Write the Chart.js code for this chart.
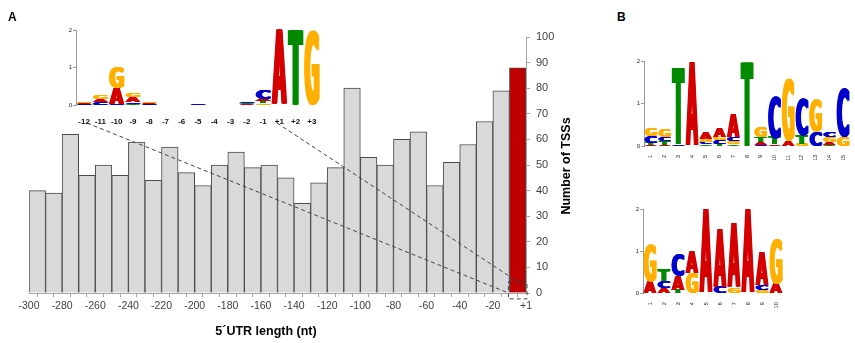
<!DOCTYPE html>
<html>
<head>
<meta charset="utf-8">
<script src="https://cdn.jsdelivr.net/npm/chart.js@4.4.1/dist/chart.umd.min.js"></script>
<style>
  body { margin: 0; background: #fff; }
  #fig { position: relative; width: 855px; height: 343px; font-family: "Liberation Sans", Arial, sans-serif; }
  canvas { position: absolute; }
  .panel { position: absolute; font: bold 12px "Liberation Sans", Arial, sans-serif; color: #000; }
</style>
</head>
<body>
<div id="fig">
  <canvas id="main" style="left:0;top:0;width:600px;height:343px"></canvas>
  <canvas id="insetA" style="left:50px;top:20px;width:280px;height:105px"></canvas>
  <canvas id="logoB1" style="left:615px;top:45px;width:240px;height:115px"></canvas>
  <canvas id="logoB2" style="left:615px;top:195px;width:180px;height:115px"></canvas>
  <div class="panel" style="left:8px;top:10px">A</div>
  <div class="panel" style="left:617px;top:10px">B</div>
</div>
<script>
// histogram: bin start (nt) and number of TSSs, last bin (-10 .. +1) in red
const binStarts = [-300, -290, -280, -270, -260, -250, -240, -230, -220, -210,
                   -200, -190, -180, -170, -160, -150, -140, -130, -120, -110,
                   -100, -90, -80, -70, -60, -50, -40, -30, -20, -10];
const tssCounts = [40, 39, 62, 46, 50, 46, 59, 44, 57, 47,
                   42, 50, 55, 49, 50, 45, 35, 43, 49, 80,
                   53, 50, 60, 63, 42, 51, 58, 67, 79, 88];

// logo around the start codon (bits per base)
const insetLabels = ['-12', '-11', '-10', '-9', '-8', '-7', '-6', '-5', '-4', '-3', '-2', '-1', '+1', '+2', '+3'];
const insetA = [0.03, 0.08, 0.41, 0.12, 0.04, 0, 0, 0.01, 0, 0, 0.02, 0.07, 1.98, 0, 0];
const insetC = [0.02, 0.06, 0.02, 0.05, 0.02, 0, 0, 0.02, 0, 0, 0.04, 0.24, 0, 0, 0];
const insetG = [0.05, 0.12, 0.59, 0.12, 0.05, 0, 0, 0, 0, 0, 0.01, 0.05, 0, 0, 1.98];
const insetT = [0.01, 0.02, 0.01, 0.04, 0.01, 0, 0, 0, 0, 0, 0.02, 0.05, 0, 1.98, 0];

// panel B, motif 1
const motif1Labels = ['1', '2', '3', '4', '5', '6', '7', '8', '9', '10', '11', '12', '13', '14', '15'];
const motif1A = [0.02, 0.03, 0, 1.98, 0.16, 0.22, 0.55, 0, 0.06, 0.04, 0.13, 0, 0, 0.06, 0];
const motif1C = [0.16, 0.10, 0.04, 0, 0.05, 0.08, 0.10, 0, 0.03, 1.0, 0, 0.89, 0.35, 0.13, 1.13];
const motif1G = [0.18, 0.18, 0, 0, 0.07, 0.09, 0.07, 0, 0.24, 0, 1.46, 0.05, 0.76, 0.12, 0.23];
const motif1T = [0.05, 0.09, 1.80, 0, 0.04, 0.05, 0.04, 1.98, 0.13, 0.17, 0, 0.20, 0, 0.03, 0];

// panel B, motif 2
const motif2Labels = ['1', '2', '3', '4', '5', '6', '7', '8', '9', '10'];
const motif2A = [0.28, 0.12, 0.33, 0.53, 1.99, 1.38, 1.53, 1.99, 0.79, 0.24];
const motif2C = [0, 0.16, 0.55, 0, 0, 0.16, 0, 0, 0.12, 0];
const motif2G = [0.89, 0, 0, 0.47, 0, 0, 0.12, 0, 0.07, 1.05];
const motif2T = [0, 0.28, 0.08, 0, 0, 0, 0, 0, 0, 0];

const baseColors = { A: '#d40000', C: '#0000cc', G: '#ffb000', T: '#008a00' };
const labelFont = '"Liberation Sans", Arial, sans-serif';
const letterFont = '"DejaVu Sans", "Liberation Sans", sans-serif';

// dashed box + guide lines + axis titles
const mainDecor = {
  id: 'mainDecor',
  afterDraw(chart) {
    const { ctx, scales: { x, y } } = chart;
    const bx0 = x.getPixelForValue(-10) - 1, bx1 = x.getPixelForValue(0) + 1;
    const by0 = y.getPixelForValue(4.4), by1 = y.getPixelForValue(-2.3);
    ctx.save();
    ctx.strokeStyle = '#444';
    ctx.lineWidth = 1;
    ctx.setLineDash([4, 3]);
    ctx.strokeRect(bx0, by0, bx1 - bx0, by1 - by0);
    ctx.beginPath();
    ctx.moveTo(87, 123);
    ctx.lineTo(bx0, y.getPixelForValue(0));
    ctx.moveTo(277, 123);
    ctx.lineTo(bx1, y.getPixelForValue(2));
    ctx.stroke();
    ctx.setLineDash([]);

    ctx.fillStyle = '#000';
    ctx.font = 'bold 12.5px ' + labelFont;
    ctx.textAlign = 'center';
    ctx.textBaseline = 'middle';
    ctx.fillText('5\u00B4UTR length (nt)', 266, 332);
    ctx.translate(567, 166);
    ctx.rotate(-Math.PI / 2);
    ctx.fillText('Number of TSSs', 0, 0);
    ctx.restore();
  }
};

new Chart(document.getElementById('main'), {
  type: 'bar',
  data: {
    datasets: [{
      data: binStarts.map((s, i) => ({ x: s + 5, y: tssCounts[i] })),
      backgroundColor: tssCounts.map((v, i) => i === tssCounts.length - 1 ? '#c00000' : '#d9d9d9'),
      borderColor: '#4a4a4a',
      borderWidth: 1,
      barPercentage: 1,
      categoryPercentage: 1
    }]
  },
  options: {
    responsive: false,
    animation: false,
    layout: { padding: { left: 29, top: 37, right: 0, bottom: 0 } },
    plugins: { legend: { display: false }, tooltip: { enabled: false } },
    scales: {
      x: {
        type: 'linear',
        min: -300,
        max: 0,
        offset: false,
        afterFit: (s) => { s.height = 50; },
        ticks: {
          stepSize: 10,
          autoSkip: false,
          maxRotation: 0,
          minRotation: 0,
          padding: 3,
          color: '#404040',
          font: { size: 10.5, family: labelFont },
          callback: (v) => v === 0 ? '+1' : (v % 20 === 0 ? String(v) : '')
        },
        grid: { drawOnChartArea: false, tickLength: 4, color: '#a6a6a6' },
        border: { color: '#a6a6a6' }
      },
      y: {
        position: 'right',
        min: 0,
        max: 100,
        afterFit: (s) => { s.width = 74; },
        ticks: {
          stepSize: 10,
          padding: 6,
          color: '#404040',
          font: { size: 11, family: labelFont }
        },
        grid: { drawOnChartArea: false, tickLength: 4, color: '#a6a6a6' },
        border: { color: '#a6a6a6' }
      }
    }
  },
  plugins: [mainDecor]
});

// draw one letter stretched to fill a box (smeared sideways to look heavier)
function drawLetter(ctx, letter, x, y, w, h) {
  if (h < 0.3) return;
  ctx.save();
  ctx.font = 'bold 100px ' + letterFont;
  ctx.textBaseline = 'alphabetic';
  ctx.textAlign = 'left';
  const m = ctx.measureText(letter);
  const gw = m.actualBoundingBoxLeft + m.actualBoundingBoxRight;
  const gh = m.actualBoundingBoxAscent + m.actualBoundingBoxDescent;
  const k = Math.min(2.5, w * 0.16);
  ctx.fillStyle = baseColors[letter];
  for (let dx = 0; dx <= k + 0.01; dx += 0.5) {
    ctx.save();
    ctx.translate(x + dx, y + h);
    ctx.scale((w - k) / gw, h / gh);
    ctx.fillText(letter, m.actualBoundingBoxLeft, -m.actualBoundingBoxDescent);
    ctx.restore();
  }
  ctx.restore();
}

const logoLetters = {
  id: 'logoLetters',
  afterDatasetsDraw(chart) {
    const { ctx, scales: { x, y } } = chart;
    const sets = chart.data.datasets;
    const colW = x.getPixelForValue(1) - x.getPixelForValue(0);
    chart.data.labels.forEach((lab, i) => {
      const stack = sets.map(d => ({ b: d.label, v: d.data[i] })).filter(e => e.v > 0);
      stack.sort((a, b) => a.v - b.v);
      let base = 0;
      const left = x.getPixelForValue(i) - colW / 2 + 0.3;
      stack.forEach(e => {
        const top = y.getPixelForValue(base + e.v);
        const bot = y.getPixelForValue(base);
        drawLetter(ctx, e.b, left, top, colW - 0.6, bot - top);
        base += e.v;
      });
    });
    // "bits" label
    ctx.save();
    ctx.fillStyle = '#222';
    ctx.font = '6px ' + labelFont;
    ctx.textAlign = 'center';
    ctx.textBaseline = 'middle';
    ctx.translate(y.left + chart.options.bitsOffset, (y.top + y.bottom) / 2);
    ctx.rotate(-Math.PI / 2);
    ctx.fillText('bits', 0, 0);
    ctx.restore();
  }
};

function makeLogo(id, labels, a, c, g, t, box, xTicks) {
  new Chart(document.getElementById(id), {
    type: 'bar',
    data: {
      labels: labels,
      datasets: [
        { label: 'A', data: a },
        { label: 'C', data: c },
        { label: 'G', data: g },
        { label: 'T', data: t }
      ].map(d => Object.assign(d, { backgroundColor: 'rgba(0,0,0,0)', stack: 's' }))
    },
    options: {
      responsive: false,
      animation: false,
      bitsOffset: box.bits,
      layout: { padding: { left: 0, top: box.top, right: box.right, bottom: 0 } },
      plugins: { legend: { display: false }, tooltip: { enabled: false } },
      scales: {
        x: {
          stacked: true,
          afterFit: (s) => { s.height = box.xh; },
          grid: { display: false },
          border: { display: false },
          ticks: xTicks
        },
        y: {
          stacked: true,
          min: 0,
          max: 2,
          afterFit: (s) => { s.width = box.yw; },
          ticks: { stepSize: 1, padding: 1, color: '#222', font: { size: 6, family: labelFont } },
          grid: { drawOnChartArea: false, tickLength: 3, color: '#999' },
          border: { color: '#999' }
        }
      }
    },
    plugins: [logoLetters]
  });
}

makeLogo('insetA', insetLabels, insetA, insetC, insetG, insetT,
  { top: 10, right: 10, xh: 19.7, yw: 26, bits: -14 },
  { padding: 4, maxRotation: 0, autoSkip: false, color: '#111', font: { size: 8, weight: 'bold', family: labelFont } });

makeLogo('logoB1', motif1Labels, motif1A, motif1C, motif1G, motif1T,
  { top: 16, right: 5, xh: 14, yw: 29, bits: -13 },
  { padding: 1, minRotation: 90, maxRotation: 90, autoSkip: false, color: '#222', font: { size: 5.5, family: labelFont } });

makeLogo('logoB2', motif2Labels, motif2A, motif2C, motif2G, motif2T,
  { top: 14, right: 12, xh: 16.7, yw: 28, bits: -13 },
  { padding: 1, minRotation: 90, maxRotation: 90, autoSkip: false, color: '#222', font: { size: 5.5, family: labelFont } });
</script>
</body>
</html>
